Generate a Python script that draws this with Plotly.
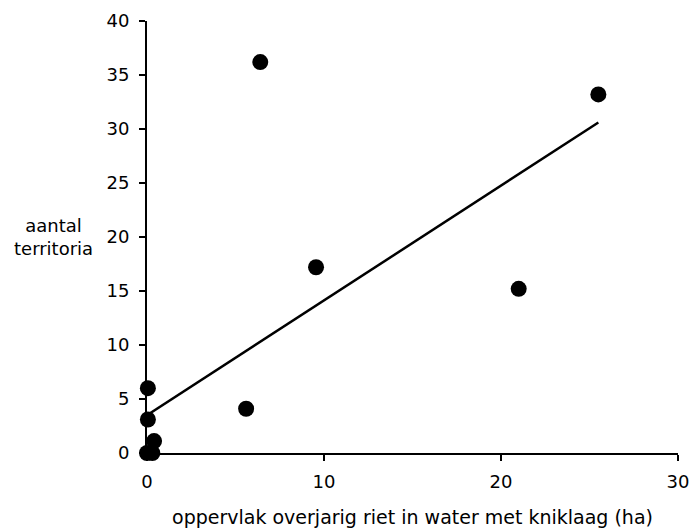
import plotly.graph_objects as go

# Observed territories vs. area of old reed standing in water with a kink layer
area_ha = [6.4, 25.5, 9.55, 21.0, 5.6, 0.05, 0.05, 0.4, 0.0, 0.3]
territories = [36.2, 33.2, 17.2, 15.2, 4.1, 6.0, 3.1, 1.1, 0.0, 0.0]

# Endpoints of the fitted trend line
trend_x = [0.0, 25.5]
trend_y = [3.5, 30.6]

x_ticks = [0, 10, 20, 30]
y_ticks = [0, 5, 10, 15, 20, 25, 30, 35, 40]

font_family = "DejaVu Sans, sans-serif"

fig = go.Figure()
fig.add_trace(go.Scatter(
    x=trend_x, y=trend_y, mode="lines",
    line=dict(color="black", width=2.5),
    cliponaxis=False, showlegend=False,
))
fig.add_trace(go.Scatter(
    x=area_ha, y=territories, mode="markers",
    marker=dict(color="black", size=16),
    cliponaxis=False, showlegend=False,
))

axis_common = dict(
    showgrid=False, zeroline=False, showline=True, automargin=False,
    linecolor="black", linewidth=2,
    ticks="outside", ticklen=6, tickwidth=2, tickcolor="black",
    tickfont=dict(size=18, color="black", family=font_family),
)

fig.update_xaxes(
    range=[0, 30], tickvals=x_ticks, ticktext=[str(v) for v in x_ticks],
    ticklabelstandoff=5,
    title=dict(text="oppervlak overjarig riet in water met kniklaag (ha)",
               font=dict(size=19, color="black", family=font_family),
               standoff=20),
    **axis_common,
)
fig.update_yaxes(
    range=[0, 40], tickvals=y_ticks, ticktext=[str(v) for v in y_ticks],
    ticklabelstandoff=6,
    **axis_common,
)

fig.add_annotation(
    text="aantal<br>territoria", showarrow=False,
    xref="x domain", yref="y domain",
    x=-0.177, y=0.5, xanchor="center", yanchor="middle",
    font=dict(size=18, color="black", family=font_family),
    align="center",
)

fig.update_layout(
    width=693, height=529,
    margin=dict(l=147, r=15, t=21, b=76),
    plot_bgcolor="white", paper_bgcolor="white",
    font=dict(family=font_family, color="black"),
)

fig.write_html("out.html")
